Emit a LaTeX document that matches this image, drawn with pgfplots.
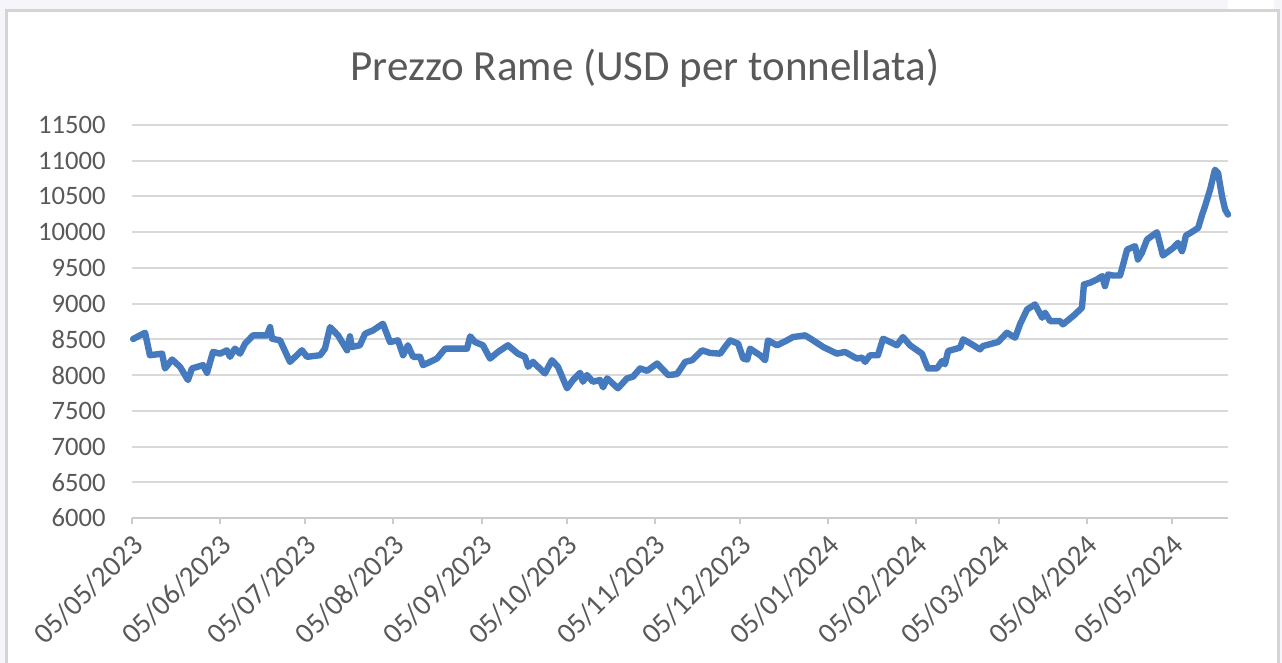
\documentclass[border=0pt]{standalone}
\usepackage{pgfplots}
\pgfplotsset{compat=1.18}
\usepackage{pgfplotstable}
\usepackage{fontspec}
\setmainfont{Carlito}
\definecolor{linecol}{RGB}{70,122,190}
\definecolor{txtgray}{RGB}{89,89,89}
\definecolor{gridgray}{RGB}{217,217,217}
\definecolor{bggray}{RGB}{246,246,250}
\definecolor{framegray}{RGB}{212,212,212}

\pgfplotstableread{
day price
0.4 8505
4.6 8593
6.3 8278
10.6 8300
11.6 8093
14.1 8218
16.9 8116
19.7 7930
21.1 8093
25.0 8139
26.4 8032
28.5 8324
31.0 8300
33.4 8347
34.5 8255
36.2 8370
38.0 8300
39.8 8440
42.6 8556
47.5 8556
48.6 8671
49.3 8509
52.1 8486
55.6 8185
59.8 8347
61.6 8255
66.2 8278
67.9 8370
69.7 8671
72.5 8556
75.7 8347
76.7 8542
77.4 8394
80.2 8417
82.0 8579
84.8 8625
88.3 8718
90.8 8463
93.6 8486
95.4 8278
97.1 8417
98.9 8255
101.4 8255
102.4 8139
104.9 8185
107.3 8231
110.2 8370
113.0 8370
117.9 8370
119.0 8542
120.7 8463
123.5 8417
126.0 8231
128.8 8324
132.3 8417
135.8 8300
138.3 8255
139.4 8116
141.1 8185
145.3 8023
147.8 8208
149.9 8116
153.1 7815
155.2 7931
157.7 8032
158.7 7907
160.1 8000
162.2 7907
164.7 7931
165.8 7829
167.2 7954
171.0 7815
174.2 7954
176.3 7977
178.8 8093
181.3 8060
184.8 8162
188.7 8000
191.8 8014
194.7 8185
197.1 8208
200.6 8347
203.4 8310
207.0 8300
208.7 8394
210.5 8486
213.3 8440
215.1 8231
216.5 8218
217.5 8370
221.0 8278
222.8 8208
223.8 8486
227.0 8417
230.5 8486
232.6 8532
236.9 8556
239.7 8486
243.2 8394
248.1 8300
250.9 8324
255.1 8231
256.9 8245
258.0 8185
259.7 8278
262.5 8278
264.3 8509
266.8 8463
269.2 8417
271.3 8532
273.8 8417
278.0 8300
280.1 8093
283.3 8093
285.1 8197
286.1 8150
287.2 8337
291.4 8384
292.5 8500
295.6 8430
298.4 8360
299.5 8407
304.8 8463
307.9 8593
310.8 8523
312.5 8710
315.0 8919
317.8 8989
320.3 8803
321.3 8873
323.1 8756
326.6 8756
327.6 8710
331.2 8826
334.3 8942
335.0 9268
337.1 9292
339.6 9338
341.4 9385
342.4 9245
343.5 9408
345.2 9394
347.7 9394
348.8 9548
350.2 9757
353.0 9804
354.0 9618
355.4 9711
357.2 9897
360.7 9999
362.8 9673
366.4 9780
368.1 9850
369.5 9734
369.9 9780
370.9 9953
373.4 10013
375.2 10060
376.6 10246
377.6 10362
379.4 10595
381.1 10874
382.2 10828
383.6 10502
384.7 10316
385.7 10246
}\copper

\begin{document}
\begin{tikzpicture}
% background and frame (px -> pt: 0.5)
\useasboundingbox (-66pt,-72.5pt) rectangle (575pt,259pt);
\clip (-66pt,-72.5pt) rectangle (575pt,259pt);
\fill[bggray] (-66pt,-72.5pt) rectangle (575pt,259pt);
\fill[white] (548pt,254pt) rectangle (571pt,259pt);
\filldraw[fill=white, draw=framegray, line width=1.5pt] (-62.5pt,-80pt) rectangle (573pt,253.5pt);
\begin{axis}[
  at={(0pt,0pt)}, anchor=south west,
  scale only axis,
  width=548pt, height=196.5pt,
  xmin=0, xmax=385.7,
  ymin=6000, ymax=11500,
  ytick={6000,6500,...,11500},
  xtick={0,31,61,92,123,153,184,214,245,276,305,336,366},
  xticklabels={05/05/2023,05/06/2023,05/07/2023,05/08/2023,05/09/2023,05/10/2023,05/11/2023,05/12/2023,05/01/2024,05/02/2024,05/03/2024,05/04/2024,05/05/2024},
  scaled y ticks=false,
  /pgf/number format/.cd, 1000 sep={}, assume math mode=true, /pgfplots/.cd,
  axis x line*=bottom,
  axis y line*=left,
  y axis line style={draw=none},
  x axis line style={draw=gridgray!85!gray, line width=1pt, -},
  ymajorgrids=true,
  grid style={gridgray, line width=1pt},
  xtick style={gridgray!85!gray, line width=1pt},
  xtick align=outside,
  major tick length=3pt,
  ytick style={draw=none},
  tick label style={color=txtgray},
  yticklabel style={font=\fontsize{13.3}{14}\selectfont, anchor=east, inner sep=0pt, xshift=-13pt},
  xticklabel style={font=\fontsize{14.5}{15}\selectfont, inner sep=0pt, xshift=3pt, yshift=-8pt, anchor=east, rotate=45},
  title={Prezzo Rame (USD per tonnellata)},
  title style={at={(0.468,1.115)}, anchor=center, font=\fontsize{21.5}{24}\selectfont, color=txtgray},
  clip=false,
]
\addplot[linecol, line width=3.2pt, line join=round, line cap=round] table[x=day, y=price] {\copper};
\end{axis}
\end{tikzpicture}
\end{document}
